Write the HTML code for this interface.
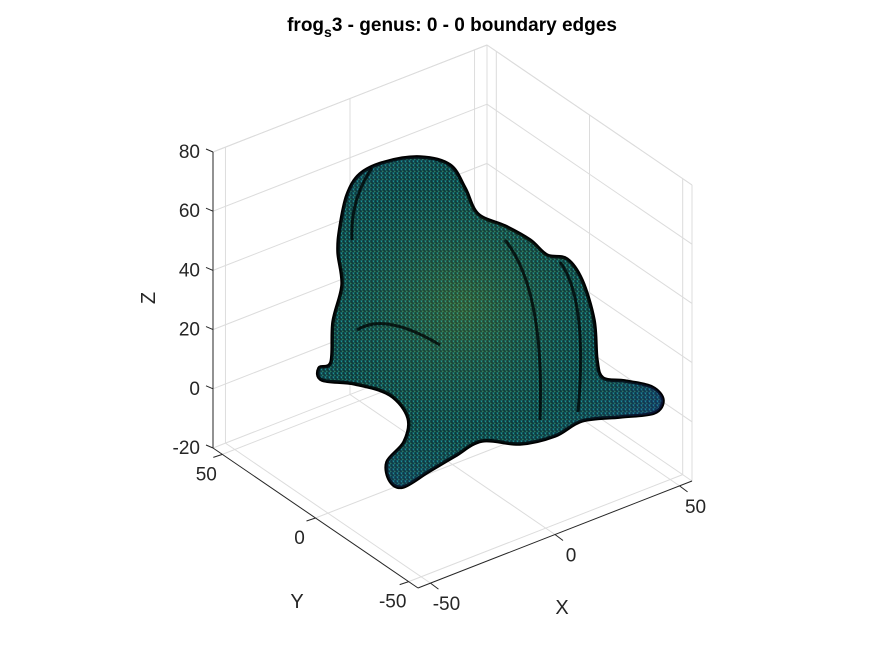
<!DOCTYPE html>
<html><head><meta charset="utf-8"><style>
html,body{margin:0;padding:0;background:#fff;}
svg{display:block;font-family:"Liberation Sans",Arial,sans-serif;}
</style></head><body>
<svg id="chart" width="875" height="656" viewBox="0 0 875 656">
<defs>
<pattern id="mesh" width="4" height="4" patternUnits="userSpaceOnUse">
<rect width="4" height="4" fill="#0c3134"/>
<path d="M0.4 0.4 L2.8 0.6 L1.2 2.8Z" fill="#1c9598"/>
<path d="M2.6 2.2 L3.9 3.9 L1.8 3.9Z" fill="#2f8a62"/>
</pattern>
<radialGradient id="hl" cx="0.42" cy="0.45" r="0.65">
<stop offset="0" stop-color="#8fb82a" stop-opacity="0.25"/>
<stop offset="0.6" stop-color="#1e8a8a" stop-opacity="0.1"/>
<stop offset="1" stop-color="#2040b0" stop-opacity="0.3"/>
</radialGradient>
</defs>
<g id="grid"></g>
<g id="axes"></g>
<g>
<path id="frog" d="" fill="url(#mesh)" stroke="#000" stroke-width="3.5" stroke-linejoin="round"/>
<path id="frogshade" d="" fill="url(#hl)"/>
<path d="M357 330 Q385 312 440 345 M505 240 Q545 290 540 420 M560 262 Q588 300 578 412 M372 168 Q350 200 352 240" fill="none" stroke="#000" stroke-width="3" opacity="0.75"/>
</g>
<text x="452" y="31" text-anchor="middle" font-size="19" font-weight="bold" fill="#000">frog<tspan font-size="14" dy="6">s</tspan><tspan dy="-6">3 - genus: 0 - 0 boundary edges</tspan></text>
<text x="0" y="0" transform="translate(155,298) rotate(-90)" text-anchor="middle" font-size="20" fill="#262626">Z</text>
<text x="297" y="608" text-anchor="middle" font-size="20" fill="#262626">Y</text>
<text x="562" y="614" text-anchor="middle" font-size="20" fill="#262626">X</text>
</svg>
<script>
const xTicks=[-50,0,50];
const yTicks=[-50,0,50];
const zTicks=[-20,0,20,40,60,80];
const xLim=[-55,55], yLim=[-55,55], zLim=[-20,80];
const F={x:418,y:588}, R={x:692,y:481}, L={x:213,y:448}, H=296;
function P(x,y,z){
  const a=(x-xLim[0])/(xLim[1]-xLim[0]), b=(y-yLim[0])/(yLim[1]-yLim[0]), c=(z-zLim[0])/(zLim[1]-zLim[0]);
  return {x:F.x+a*(R.x-F.x)+b*(L.x-F.x), y:F.y+a*(R.y-F.y)+b*(L.y-F.y)-c*H};
}
const NS="http://www.w3.org/2000/svg";
const grid=document.getElementById('grid'), axes=document.getElementById('axes');
function line(g,p,q,col,w,name){
  const l=document.createElementNS(NS,'line');
  l.setAttribute('x1',p.x);l.setAttribute('y1',p.y);l.setAttribute('x2',q.x);l.setAttribute('y2',q.y);
  l.setAttribute('stroke',col);l.setAttribute('stroke-width',w);
  
  
  g.appendChild(l);
}
function txt(x,y,s,anchor,name){
  const t=document.createElementNS(NS,'text');
  t.setAttribute('x',x);t.setAttribute('y',y);t.setAttribute('font-size','19');t.setAttribute('fill','#262626');
  t.setAttribute('text-anchor',anchor);t.textContent=s;
  
  
  axes.appendChild(t);
}
const gc='#dcdcdc';
const [x0,x1]=xLim,[y0,y1]=yLim,[z0,z1]=zLim;
zTicks.forEach(z=>{
  line(grid,P(x0,y1,z),P(x1,y1,z),gc,1,'z-gridline');
  line(grid,P(x1,y1,z),P(x1,y0,z),gc,1,'z-gridline');
});
xTicks.forEach(x=>{
  line(grid,P(x,y1,z0),P(x,y1,z1),gc,1,'x-gridline');
  line(grid,P(x,y0,z0),P(x,y1,z0),gc,1,'x-gridline');
});
yTicks.forEach(y=>{
  line(grid,P(x1,y,z0),P(x1,y,z1),gc,1,'y-gridline');
  line(grid,P(x0,y,z0),P(x1,y,z0),gc,1,'y-gridline');
});
line(grid,P(x0,y1,z1),P(x1,y1,z1),gc,1,'box-edge');
line(grid,P(x1,y1,z1),P(x1,y0,z1),gc,1,'box-edge');
line(grid,P(x1,y1,z0),P(x1,y1,z1),gc,1,'box-edge');
line(grid,P(x1,y0,z0),P(x1,y0,z1),gc,1,'box-edge');
const ac='#262626';
line(axes,P(x0,y1,z0),P(x0,y1,z1),ac,1,'z-axis-line');
line(axes,P(x0,y0,z0),P(x1,y0,z0),ac,1,'x-axis-line');
line(axes,P(x0,y0,z0),P(x0,y1,z0),ac,1,'y-axis-line');
zTicks.forEach(z=>{const p=P(x0,y1,z);
  line(axes,p,{x:p.x-7,y:p.y-3},ac,1,'z-tick');
  txt(p.x-13,p.y+6,String(z),'end','z-tick-label');});
xTicks.forEach(x=>{const p=P(x,y0,z0);
  line(axes,p,{x:p.x+8,y:p.y+6},ac,1,'x-tick');
  txt(p.x+16,p.y+27,String(x),'middle','x-tick-label');});
yTicks.forEach(y=>{const p=P(x0,y,z0);
  line(axes,p,{x:p.x-9,y:p.y+3},ac,1,'y-tick');
  txt(p.x-16,p.y+26,String(y),'middle','y-tick-label');});
// smooth frog outline (screen-space silhouette)
const outline=[[340,227],[347,195],[360,174],[385,162],[420,157],[450,165],[465,188],[478,214],[505,226],[530,240],[547,255],[567,259],[582,280],[594,320],[597,360],[603,378],[625,381],[652,387],[663,400],[654,413],[620,417],[582,421],[555,436],[520,444],[482,441],[455,456],[428,472],[403,487],[390,481],[387,462],[404,442],[408,418],[390,395],[355,384],[322,380],[319,368],[331,362],[333,322],[342,285],[338,252]];
function smooth(pts){
  const n=pts.length;let d=`M${pts[0][0]} ${pts[0][1]}`;
  for(let i=0;i<n;i++){
    const p0=pts[(i-1+n)%n],p1=pts[i],p2=pts[(i+1)%n],p3=pts[(i+2)%n];
    const c1=[p1[0]+(p2[0]-p0[0])/6,p1[1]+(p2[1]-p0[1])/6];
    const c2=[p2[0]-(p3[0]-p1[0])/6,p2[1]-(p3[1]-p1[1])/6];
    d+=` C${c1[0].toFixed(1)} ${c1[1].toFixed(1)} ${c2[0].toFixed(1)} ${c2[1].toFixed(1)} ${p2[0]} ${p2[1]}`;
  }
  return d+'Z';
}
const fd=smooth(outline);
document.getElementById('frog').setAttribute('d',fd);
document.getElementById('frogshade').setAttribute('d',fd);
</script>
</body></html>
